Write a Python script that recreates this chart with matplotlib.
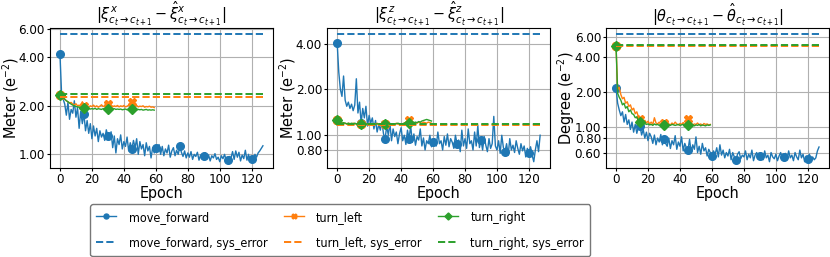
import numpy as np
import matplotlib
matplotlib.use("Agg")
import matplotlib.pyplot as plt
from matplotlib.ticker import FixedLocator, FormatStrFormatter, NullLocator

plt.rcParams["font.stretch"] = "condensed"

# epochs
epochs_mf = np.arange(128)
epochs_turn = np.arange(60)

# panel 1: xi_x (meter, e-2)
x_forward = [
    4.20, 2.40, 2.20, 2.05, 1.75, 2.10, 1.65, 1.90, 1.80, 2.15,
    1.70, 1.95, 1.45, 1.85, 1.55, 1.78, 1.40, 1.62, 1.35, 1.55,
    1.25, 1.50, 1.30, 1.45, 1.20, 1.40, 1.28, 1.35, 1.22, 1.42,
    1.30, 1.25, 1.38, 1.10, 1.30, 1.02, 1.25, 1.15, 1.32, 1.08,
    1.20, 1.12, 1.28, 1.05, 1.18, 1.08, 1.22, 1.10, 1.25, 1.00,
    1.20, 1.08, 1.15, 0.98, 1.18, 1.05, 1.12, 0.95, 1.10, 1.02,
    1.10, 1.05, 1.15, 1.00, 1.12, 0.98, 1.08, 1.02, 1.14, 0.96,
    1.05, 1.10, 0.98, 1.06, 1.00, 1.12, 1.03, 0.97, 1.05, 0.95,
    1.02, 0.96, 1.04, 0.93, 1.00, 0.97, 1.03, 0.92, 0.99, 0.95,
    0.97, 1.02, 0.94, 0.99, 0.91, 0.98, 0.95, 1.01, 0.93, 0.96,
    0.90, 0.98, 0.94, 1.00, 0.92, 0.92, 0.97, 0.95, 1.04, 0.93,
    1.05, 0.96, 1.03, 0.91, 0.99, 0.94, 1.06, 0.92, 1.00, 0.90,
    0.94, 0.90, 1.00, 0.96, 1.02, 1.05, 1.09, 1.13,
]
x_left = [
    2.35, 2.30, 2.24, 2.20, 2.15, 2.12, 2.08, 2.10, 2.05, 2.03,
    2.06, 2.00, 2.02, 1.98, 2.12, 2.00, 1.97, 1.99, 1.96, 2.00,
    1.98, 2.02, 1.97, 2.00, 1.96, 1.99, 2.03, 1.98, 2.00, 2.14,
    2.04, 1.99, 2.02, 1.97, 2.00, 1.98, 2.01, 1.97, 2.00, 1.98,
    2.01, 1.97, 1.99, 2.02, 2.00, 2.10, 2.00, 1.98, 2.01, 1.97,
    1.99, 1.98, 2.00, 1.96, 1.98, 1.97, 1.99, 1.96, 1.97, 1.95,
]
x_right = [
    2.35, 2.30, 2.25, 2.20, 2.15, 2.12, 2.08, 2.05, 2.02, 2.00,
    1.98, 1.97, 1.96, 1.95, 1.94, 1.95, 1.93, 1.92, 1.93, 1.91,
    1.92, 1.91, 1.93, 1.90, 1.92, 1.91, 1.90, 1.92, 1.91, 1.90,
    1.92, 1.91, 1.90, 1.91, 1.92, 1.90, 1.91, 1.90, 1.91, 1.89,
    1.90, 1.91, 1.89, 1.90, 1.91, 1.90, 1.89, 1.90, 1.89, 1.90,
    1.89, 1.90, 1.88, 1.89, 1.90, 1.88, 1.89, 1.88, 1.89, 1.88,
]
x_sys = [5.55, 2.27, 2.36]

# panel 2: xi_z (meter, e-2)
z_forward = [
    4.05, 2.60, 2.00, 1.80, 2.45, 1.70, 1.55, 1.65, 1.50, 1.60,
    1.45, 1.58, 2.35, 1.40, 1.65, 1.20, 1.50, 1.30, 1.55, 1.15,
    1.35, 1.20, 1.30, 1.10, 1.25, 1.05, 1.18, 1.08, 1.22, 1.02,
    0.95, 1.15, 1.00, 1.20, 0.92, 1.10, 0.98, 1.05, 0.88, 1.02,
    1.12, 0.92, 1.00, 0.87, 1.08, 0.95, 1.15, 0.90, 1.02, 0.86,
    0.98, 0.93, 1.10, 0.85, 0.96, 0.80, 0.92, 0.88, 1.00, 0.84,
    0.90, 0.95, 0.85, 1.05, 0.88, 0.92, 0.80, 0.98, 0.86, 1.02,
    0.84, 0.95, 0.90, 0.82, 1.00, 0.88, 0.93, 0.78, 1.08, 0.85,
    0.95, 0.82, 1.10, 0.88, 0.92, 0.80, 1.05, 0.85, 1.16, 0.83,
    0.93, 0.80, 0.98, 0.86, 0.78, 0.95, 0.82, 0.88, 1.33, 0.85,
    0.80, 0.92, 0.76, 1.00, 0.83, 0.78, 0.88, 0.74, 0.95, 0.80,
    0.86, 0.77, 0.92, 0.82, 0.75, 0.88, 0.79, 0.85, 0.72, 0.82,
    0.76, 0.84, 0.74, 0.67, 0.80, 0.92, 0.78, 1.00,
]
z_left = [
    1.25, 1.22, 1.20, 1.21, 1.19, 1.20, 1.18, 1.20, 1.19, 1.18,
    1.20, 1.19, 1.18, 1.20, 1.17, 1.18, 1.19, 1.18, 1.20, 1.17,
    1.19, 1.18, 1.17, 1.19, 1.18, 1.20, 1.17, 1.19, 1.18, 1.17,
    1.18, 1.19, 1.17, 1.18, 1.19, 1.17, 1.18, 1.20, 1.18, 1.19,
    1.18, 1.19, 1.20, 1.22, 1.24, 1.26, 1.22, 1.20, 1.19, 1.21,
    1.20, 1.22, 1.21, 1.20, 1.22, 1.21, 1.20, 1.22, 1.21, 1.20,
]
z_right = [
    1.26, 1.23, 1.21, 1.20, 1.21, 1.20, 1.19, 1.20, 1.19, 1.20,
    1.19, 1.20, 1.19, 1.18, 1.20, 1.19, 1.18, 1.19, 1.18, 1.19,
    1.18, 1.19, 1.18, 1.19, 1.18, 1.19, 1.18, 1.17, 1.18, 1.19,
    1.18, 1.17, 1.18, 1.19, 1.18, 1.19, 1.18, 1.19, 1.20, 1.19,
    1.18, 1.19, 1.20, 1.21, 1.20, 1.20, 1.21, 1.22, 1.21, 1.22,
    1.21, 1.23, 1.22, 1.24, 1.25, 1.26, 1.27, 1.26, 1.25, 1.24,
]
z_sys = [4.60, 1.16, 1.18]

# panel 3: theta (degree, e-2)
t_forward = [
    2.15, 1.60, 1.40, 1.25, 1.35, 1.10, 1.28, 1.05, 1.15, 0.95,
    1.10, 0.90, 1.05, 0.88, 1.00, 1.02, 0.85, 0.95, 0.80, 0.90,
    0.76, 0.88, 0.82, 0.72, 0.85, 0.70, 0.80, 0.74, 0.86, 0.70,
    0.78, 0.72, 0.68, 0.80, 0.65, 0.76, 0.70, 0.84, 0.64, 0.74,
    0.68, 0.82, 0.62, 0.72, 0.66, 0.63, 0.78, 0.60, 0.70, 0.64,
    0.82, 0.60, 0.68, 0.58, 0.72, 0.62, 0.66, 0.56, 0.64, 0.60,
    0.56, 0.62, 0.58, 0.66, 0.55, 0.70, 0.57, 0.63, 0.54, 0.60,
    0.56, 0.64, 0.52, 0.60, 0.55, 0.52, 0.58, 0.61, 0.53, 0.57,
    0.55, 0.62, 0.52, 0.58, 0.54, 0.63, 0.51, 0.57, 0.60, 0.53,
    0.56, 0.59, 0.52, 0.62, 0.54, 0.57, 0.50, 0.60, 0.55, 0.53,
    0.58, 0.51, 0.56, 0.60, 0.53, 0.55, 0.59, 0.52, 0.62, 0.54,
    0.57, 0.51, 0.60, 0.55, 0.52, 0.63, 0.54, 0.58, 0.50, 0.56,
    0.53, 0.58, 0.51, 0.55, 0.52, 0.54, 0.62, 0.67,
]
t_left = [
    5.00, 2.10, 2.20, 1.90, 1.75, 1.80, 1.60, 1.65, 1.50, 1.55,
    1.40, 1.45, 1.30, 1.35, 1.22, 1.18, 1.15, 1.10, 1.14, 1.08,
    1.12, 1.06, 1.10, 1.05, 1.20, 1.08, 1.06, 1.10, 1.04, 1.09,
    1.07, 1.05, 1.12, 1.06, 1.04, 1.08, 1.05, 1.10, 1.06, 1.04,
    1.07, 1.05, 1.09, 1.04, 1.06, 1.17, 1.05, 1.08, 1.04, 1.06,
    1.05, 1.08, 1.04, 1.06, 1.03, 1.07, 1.05, 1.06, 1.04, 1.05,
]
t_right = [
    5.00, 1.95, 1.80, 1.70, 1.55, 1.60, 1.45, 1.50, 1.35, 1.40,
    1.30, 1.28, 1.20, 1.22, 1.12, 1.10, 1.08, 1.06, 1.07, 1.05,
    1.06, 1.04, 1.05, 1.03, 1.06, 1.04, 1.05, 1.03, 1.04, 1.05,
    1.04, 1.03, 1.05, 1.04, 1.03, 1.05, 1.04, 1.03, 1.04, 1.05,
    1.03, 1.04, 1.05, 1.03, 1.04, 1.04, 1.03, 1.05, 1.04, 1.02,
    1.04, 1.03, 1.05, 1.02, 1.04, 1.03, 1.02, 1.04, 1.03, 1.04,
]
t_sys = [6.30, 5.00, 5.05]

labels = ["move_forward", "turn_left", "turn_right"]
colors = ["tab:blue", "tab:orange", "tab:green"]
markers = ["o", "X", "D"]

titles = [
    r"$|\xi^x_{c_t\rightarrow c_{t+1}} - \hat{\xi}^x_{c_t\rightarrow c_{t+1}}|$",
    r"$|\xi^z_{c_t\rightarrow c_{t+1}} - \hat{\xi}^z_{c_t\rightarrow c_{t+1}}|$",
    r"$|\theta_{c_t\rightarrow c_{t+1}} - \hat{\theta}_{c_t\rightarrow c_{t+1}}|$",
]
ylabels = [r"Meter (e$^{-2}$)", r"Meter (e$^{-2}$)", r"Degree (e$^{-2}$)"]
yticks = [[1, 2, 4, 6], [0.8, 1, 2, 4], [0.6, 0.8, 1, 2, 4, 6]]

panels = [
    (x_forward, x_left, x_right, x_sys),
    (z_forward, z_left, z_right, z_sys),
    (t_forward, t_left, t_right, t_sys),
]

fig = plt.figure(figsize=(8.3, 2.57), dpi=100)
lefts = [0.060, 0.394, 0.730]

for i, (fwd, left, right, sys_err) in enumerate(panels):
    ax = fig.add_axes([lefts[i], 0.346, 0.269, 0.545])
    series = [(epochs_mf, fwd), (epochs_turn, left), (epochs_turn, right)]
    for (ep, vals), lab, c, m in zip(series, labels, colors, markers):
        ax.plot(ep, vals, color=c, marker=m, markevery=15, markersize=5.5,
                linewidth=1.0, label=lab)
    for err, lab, c in zip(sys_err, labels, colors):
        ax.plot(epochs_mf, np.full(len(epochs_mf), err), "--", color=c,
                linewidth=1.4, label=lab + ", sys_error")
    ax.set_yscale("log")
    ax.yaxis.set_major_locator(FixedLocator(yticks[i]))
    ax.yaxis.set_minor_locator(NullLocator())
    ax.yaxis.set_major_formatter(FormatStrFormatter("%.2f"))
    ax.set_xticks([0, 20, 40, 60, 80, 100, 120])
    ax.tick_params(axis="both", length=2, pad=1.5, labelsize=9.5)
    ax.grid(True, color="#b0b0b0", linewidth=0.8)
    ax.set_title(titles[i], fontsize=11.5, pad=1)
    ax.set_xlabel("Epoch", fontsize=11.5, labelpad=0)
    ax.set_ylabel(ylabels[i], fontsize=10.5, fontstretch="normal")
    ax.yaxis.set_label_coords(-0.13, 0.5)

handles, labs = ax.get_legend_handles_labels()
order = [0, 3, 1, 4, 2, 5]
fig.legend([handles[k] for k in order], [labs[k] for k in order], ncol=3,
           loc="lower left", bbox_to_anchor=(90 / 830, 1 / 257),
           borderaxespad=0, fontsize=9, markerscale=0.65,
           handlelength=1.6, handletextpad=1.0, columnspacing=1.3,
           labelspacing=1.05, borderpad=0.5, edgecolor="#555555")

fig.savefig("out.png", dpi=100)
